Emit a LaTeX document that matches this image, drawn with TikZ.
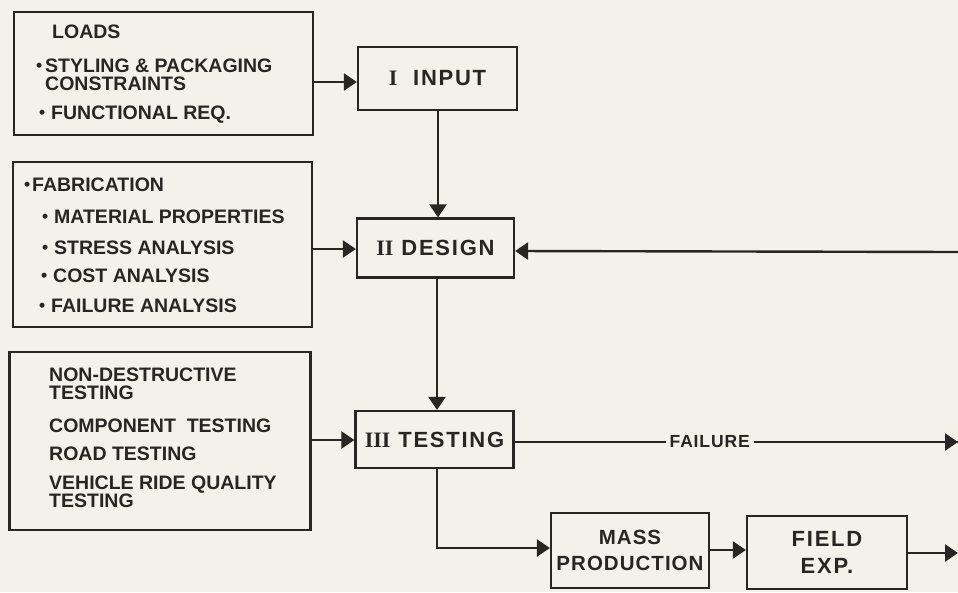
\documentclass[tikz,border=0pt]{standalone}
\usepackage{fontspec}
\setmainfont{Liberation Sans}
\newfontfamily\romfont{Liberation Serif}
\newfontfamily\spaced[LetterSpace=8]{Liberation Sans}
\newfontfamily\spacedb[LetterSpace=5]{Liberation Sans}
\usetikzlibrary{arrows.meta}
\definecolor{paper}{RGB}{244,241,235}
\definecolor{ink}{RGB}{40,37,35}
\newcommand\bl[1]{\llap{\raisebox{0.1ex}{\scalebox{0.9}{•}}\hspace{#1}}}
\newcommand\tls{\lineskiplimit-20pt\relax}
\tikzset{
  x=1pt, y=-1pt,
  box/.style={draw=ink, line width=2.2pt, inner sep=0pt},
  ttl/.style={box, font=\spaced\bfseries\fontsize{22}{24}\selectfont, text=ink},
  lt/.style={anchor=west, inner sep=0pt, text=ink, align=left,
    font=\bfseries\fontsize{19.5}{18}\selectfont\tls},
  conn/.style={draw=ink, line width=2.4pt, -{Triangle[length=13pt,width=17pt]}},
}
\begin{document}
\begin{tikzpicture}
\fill[paper] (0,0) rectangle (958,592);
\useasboundingbox (0,0) rectangle (958,592);

% list boxes
\node[box, minimum width=299pt, minimum height=123pt] (loads) at (163.5,73.5) {};
\node[lt] (l1) at (52,32) {LOADS};
\node[lt] (l2) at (45,75) {\bl{3pt}STYLING \& PACKAGING\\CONSTRAINTS};
\node[lt] (l4) at (51,115) {\bl{6pt}FUNCTIONAL REQ.};

\node[box, minimum width=299pt, minimum height=165pt] (fab) at (162.5,244.5) {};
\node[lt] (f1) at (32,185) {\bl{2pt}FABRICATION};
\node[lt] (f2) at (54,217) {\bl{6pt}MATERIAL PROPERTIES};
\node[lt] (f3) at (54,248) {\bl{6pt}STRESS ANALYSIS};
\node[lt] (f4) at (53,276) {\bl{6pt}COST ANALYSIS};
\node[lt] (f5) at (51,306) {\bl{6pt}FAILURE ANALYSIS};

\node[box, minimum width=301pt, minimum height=178pt] (tst) at (160,441) {};
\node[lt] (t1) at (49,384) {NON-DESTRUCTIVE\\TESTING};
\node[lt] (t3) at (49,426) {COMPONENT\ \ TESTING};
\node[lt] (t4) at (49,454) {ROAD\ TESTING};
\node[lt] (t5) at (49,492) {VEHICLE\ RIDE\ QUALITY\\TESTING};

% main boxes
\node[ttl, minimum width=159pt, minimum height=63pt] (input) at (437.5,78.5) {{\romfont\bfseries I}\ \ INPUT};
\node[ttl, minimum width=157pt, minimum height=59pt] (design) at (435.5,248) {{\romfont\bfseries II}\ DESIGN};
\node[ttl, minimum width=158pt, minimum height=57pt] (testing) at (434.5,439.5) {{\romfont\bfseries III}\ TESTING};
\node[ttl, align=center, font=\spacedb\bfseries\fontsize{20.5}{26}\selectfont, minimum width=158pt, minimum height=75pt] (mass) at (630,550.5) {MASS\\PRODUCTION};
\node[ttl, align=center, font=\spaced\bfseries\fontsize{22}{27}\selectfont, minimum width=160pt, minimum height=73pt] (field) at (827,552.5) {FIELD\\EXP.};

% connectors
\coordinate (fbR) at (958,252);
\coordinate (failR) at (958,442);
\coordinate (outR) at (958,553);
\coordinate (bend) at (437,548);

\draw[conn] (loads.east |- 0,82) -- (input.west |- 0,82);
\draw[conn] (fab.east |- 0,249) -- (design.west |- 0,249);
\draw[conn] (tst.east |- 0,440) -- (testing.west |- 0,440);
\draw[conn] (input.south -| 438,0) -- (design.north -| 438,0);
\draw[conn] (design.south -| 437,0) -- (testing.north -| 437,0);
\draw[conn] (fbR) -- (design.east |- 0,251);
\draw[draw=ink, line width=2.2pt] (testing.east |- 0,442) -- node[fill=paper, inner xsep=4pt, inner ysep=1pt, text=ink, font=\spacedb\bfseries\fontsize{17.5}{20}\selectfont, pos=0.44] (fail) {FAILURE} (failR);
\draw[conn] (fail.east) -- (failR);
\draw[conn] (testing.south -| bend) -- (bend) -- (mass.west |- bend);
\draw[conn] (mass.east |- 0,550) -- (field.west |- 0,550);
\draw[conn] (field.east |- 0,553) -- (outR);
\end{tikzpicture}
\end{document}
